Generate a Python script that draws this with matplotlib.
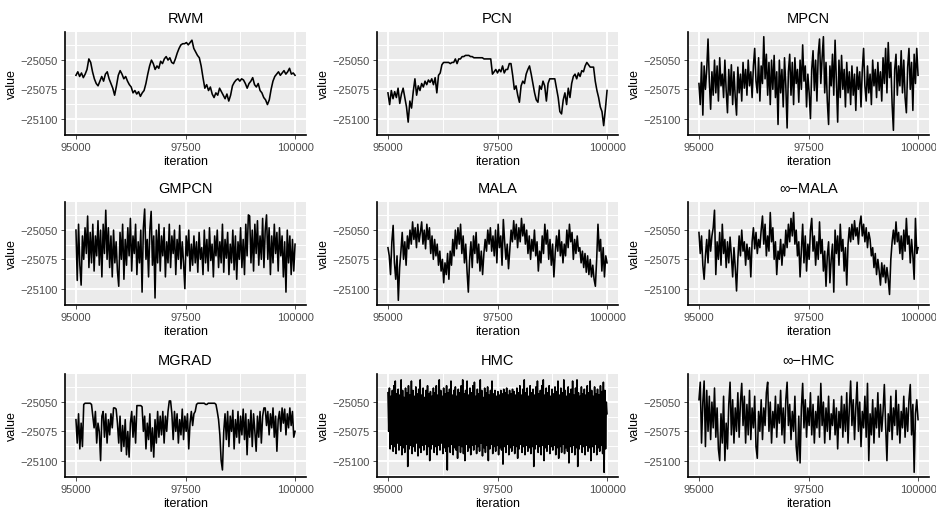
import numpy as np
import matplotlib
matplotlib.use("Agg")
import matplotlib.pyplot as plt

plt.rcParams['font.family'] = ['Liberation Sans', 'DejaVu Sans']

# iterations shown in every trace
iter_start, iter_end = 95000, 100000

rwm = [-25063, -25060, -25064, -25061, -25065, -25062, -25058, -25049, -25052, -25060,
       -25066, -25070, -25072, -25068, -25064, -25068, -25062, -25060, -25066, -25070,
       -25074, -25080, -25072, -25063, -25059, -25062, -25066, -25064, -25068, -25071,
       -25073, -25078, -25076, -25079, -25077, -25081, -25078, -25076, -25070, -25062,
       -25055, -25050, -25053, -25058, -25055, -25057, -25051, -25053, -25049, -25047,
       -25050, -25048, -25052, -25053, -25049, -25044, -25040, -25037, -25036, -25036,
       -25035, -25037, -25035, -25033, -25040, -25043, -25046, -25048, -25055, -25065,
       -25074, -25071, -25076, -25073, -25079, -25082, -25078, -25080, -25074, -25077,
       -25080, -25083, -25079, -25085, -25080, -25072, -25069, -25067, -25066, -25068,
       -25066, -25067, -25070, -25074, -25070, -25068, -25065, -25071, -25073, -25070,
       -25076, -25078, -25082, -25084, -25088, -25084, -25075, -25068, -25064, -25062,
       -25060, -25063, -25061, -25059, -25062, -25060, -25057, -25062, -25061, -25063]

pcn = [-25078, -25088, -25076, -25083, -25077, -25082, -25074, -25087, -25079, -25074,
       -25082, -25090, -25103, -25085, -25091, -25077, -25066, -25080, -25072, -25076,
       -25070, -25073, -25068, -25071, -25067, -25069, -25066, -25071, -25065, -25078,
       -25063, -25061, -25054, -25052, -25052, -25052, -25052, -25053, -25052, -25052,
       -25049, -25053, -25049, -25049, -25047, -25047, -25046, -25046, -25046, -25047,
       -25047, -25048, -25048, -25048, -25048, -25048, -25048, -25049, -25049, -25049,
       -25049, -25049, -25062, -25060, -25058, -25061, -25058, -25060, -25055, -25061,
       -25058, -25058, -25053, -25053, -25063, -25075, -25072, -25080, -25086, -25072,
       -25068, -25070, -25062, -25058, -25055, -25062, -25070, -25078, -25084, -25086,
       -25072, -25075, -25068, -25072, -25085, -25070, -25066, -25066, -25066, -25066,
       -25074, -25082, -25094, -25096, -25084, -25078, -25088, -25074, -25082, -25070,
       -25064, -25062, -25066, -25061, -25064, -25059, -25060, -25055, -25052, -25054,
       -25056, -25056, -25056, -25068, -25076, -25082, -25090, -25094, -25106, -25092,
       -25076]

mpcn = [-25070, -25088, -25052, -25097, -25055, -25075, -25058, -25032, -25068, -25092,
        -25060, -25080, -25050, -25078, -25055, -25085, -25048, -25072, -25062, -25082,
        -25050, -25076, -25095, -25058, -25080, -25054, -25088, -25060, -25082, -25097,
        -25056, -25078, -25062, -25085, -25052, -25074, -25058, -25080, -25050, -25072,
        -25060, -25082, -25055, -25040, -25068, -25078, -25048, -25085, -25055, -25070,
        -25030, -25066, -25045, -25080, -25052, -25088, -25050, -25075, -25046, -25082,
        -25060, -25105, -25050, -25078, -25058, -25090, -25048, -25072, -25108, -25060,
        -25045, -25080, -25052, -25088, -25048, -25070, -25058, -25086, -25050, -25075,
        -25037, -25068, -25055, -25090, -25062, -25078, -25100, -25058, -25042, -25076,
        -25050, -25085, -25045, -25032, -25070, -25048, -25030, -25078, -25052, -25085,
        -25105, -25055, -25072, -25045, -25080, -25033, -25068, -25103, -25050, -25082,
        -25046, -25075, -25058, -25090, -25052, -25078, -25060, -25088, -25055, -25080,
        -25062, -25093, -25056, -25075, -25060, -25090, -25058, -25040, -25072, -25085,
        -25055, -25078, -25062, -25088, -25050, -25072, -25058, -25082, -25052, -25076,
        -25060, -25085, -25048, -25070, -25040, -25078, -25035, -25065, -25052, -25088,
        -25110, -25058, -25045, -25080, -25055, -25072, -25042, -25078, -25050, -25082,
        -25095, -25056, -25040, -25075, -25052, -25093, -25045, -25070, -25040, -25063]

gmpcn = [-25050, -25093, -25045, -25080, -25097, -25055, -25075, -25048, -25070, -25038,
         -25082, -25052, -25078, -25045, -25085, -25055, -25072, -25042, -25080, -25050,
         -25090, -25045, -25070, -25033, -25075, -25048, -25082, -25055, -25090, -25050,
         -25078, -25060, -25085, -25098, -25052, -25075, -25045, -25092, -25058, -25080,
         -25048, -25072, -25040, -25085, -25055, -25070, -25045, -25088, -25060, -25078,
         -25050, -25103, -25048, -25032, -25075, -25058, -25090, -25050, -25034, -25080,
         -25055, -25108, -25050, -25078, -25045, -25085, -25055, -25072, -25048, -25090,
         -25060, -25078, -25045, -25082, -25055, -25070, -25050, -25088, -25058, -25075,
         -25046, -25083, -25060, -25078, -25100, -25055, -25072, -25050, -25085, -25062,
         -25080, -25055, -25078, -25060, -25086, -25052, -25075, -25065, -25088, -25050,
         -25078, -25058, -25085, -25048, -25076, -25062, -25090, -25055, -25072, -25050,
         -25082, -25060, -25078, -25045, -25086, -25058, -25074, -25052, -25088, -25062,
         -25078, -25050, -25084, -25055, -25092, -25060, -25075, -25048, -25082, -25058,
         -25088, -25045, -25072, -25037, -25038, -25078, -25050, -25085, -25045, -25070,
         -25042, -25080, -25055, -25075, -25040, -25082, -25050, -25037, -25075, -25048,
         -25088, -25055, -25078, -25045, -25070, -25052, -25085, -25048, -25072, -25055,
         -25090, -25060, -25103, -25050, -25078, -25055, -25088, -25058, -25085, -25062]

mala = [-25065, -25072, -25088, -25060, -25046, -25078, -25092, -25072, -25110, -25082,
        -25068, -25052, -25075, -25060, -25080, -25055, -25066, -25050, -25062, -25043,
        -25058, -25048, -25065, -25045, -25060, -25052, -25043, -25062, -25050, -25066,
        -25045, -25058, -25048, -25070, -25055, -25075, -25058, -25072, -25062, -25080,
        -25068, -25085, -25075, -25095, -25078, -25088, -25070, -25092, -25068, -25080,
        -25058, -25072, -25050, -25066, -25048, -25062, -25045, -25070, -25055, -25078,
        -25062, -25085, -25103, -25075, -25060, -25082, -25055, -25070, -25052, -25078,
        -25062, -25085, -25068, -25088, -25070, -25058, -25068, -25050, -25062, -25048,
        -25068, -25055, -25072, -25050, -25078, -25045, -25065, -25055, -25080, -25041,
        -25060, -25075, -25062, -25083, -25066, -25050, -25060, -25042, -25058, -25045,
        -25065, -25048, -25060, -25040, -25055, -25045, -25062, -25050, -25070, -25055,
        -25075, -25058, -25068, -25050, -25072, -25060, -25085, -25068, -25078, -25055,
        -25070, -25045, -25062, -25050, -25075, -25058, -25080, -25062, -25090, -25070,
        -25055, -25068, -25050, -25072, -25060, -25078, -25062, -25072, -25050, -25065,
        -25045, -25060, -25052, -25075, -25058, -25070, -25055, -25068, -25065, -25078,
        -25068, -25082, -25070, -25086, -25072, -25088, -25075, -25090, -25080, -25092,
        -25098, -25075, -25045, -25068, -25058, -25085, -25065, -25090, -25072, -25078]

inf_mala = [-25052, -25070, -25055, -25080, -25092, -25072, -25058, -25078, -25050, -25068,
            -25055, -25048, -25033, -25088, -25060, -25075, -25052, -25080, -25045, -25070,
            -25058, -25082, -25060, -25078, -25056, -25072, -25090, -25065, -25082, -25102,
            -25075, -25055, -25072, -25050, -25068, -25060, -25080, -25062, -25075, -25065,
            -25090, -25060, -25048, -25066, -25052, -25070, -25058, -25065, -25050, -25038,
            -25062, -25045, -25072, -25055, -25068, -25035, -25060, -25048, -25075, -25060,
            -25088, -25068, -25075, -25058, -25080, -25062, -25072, -25050, -25065, -25045,
            -25060, -25040, -25055, -25035, -25062, -25050, -25072, -25060, -25090, -25068,
            -25045, -25078, -25055, -25085, -25062, -25075, -25050, -25040, -25068, -25055,
            -25080, -25060, -25075, -25043, -25070, -25058, -25085, -25068, -25098, -25072,
            -25060, -25095, -25075, -25062, -25103, -25050, -25070, -25055, -25080, -25045,
            -25068, -25058, -25085, -25065, -25097, -25062, -25048, -25060, -25045, -25058,
            -25042, -25055, -25048, -25062, -25045, -25038, -25055, -25045, -25060, -25048,
            -25065, -25052, -25058, -25072, -25065, -25082, -25070, -25088, -25075, -25085,
            -25097, -25078, -25090, -25080, -25095, -25082, -25092, -25105, -25075, -25060,
            -25050, -25062, -25043, -25060, -25052, -25070, -25055, -25075, -25050, -25068,
            -25040, -25062, -25055, -25078, -25058, -25072, -25092, -25040, -25070, -25065]

mgrad = [-25065, -25085, -25060, -25090, -25068, -25088, -25052, -25051, -25051, -25051,
         -25051, -25051, -25052, -25062, -25072, -25058, -25085, -25068, -25075, -25100,
         -25062, -25058, -25080, -25060, -25085, -25065, -25078, -25060, -25072, -25055,
         -25055, -25056, -25068, -25085, -25062, -25092, -25070, -25088, -25065, -25095,
         -25075, -25097, -25068, -25058, -25080, -25062, -25085, -25053, -25053, -25053,
         -25053, -25054, -25075, -25062, -25090, -25068, -25082, -25060, -25092, -25072,
         -25097, -25065, -25085, -25058, -25080, -25062, -25078, -25058, -25085, -25062,
         -25075, -25058, -25049, -25049, -25060, -25082, -25058, -25075, -25060, -25085,
         -25065, -25078, -25056, -25082, -25062, -25075, -25060, -25090, -25068, -25058,
         -25070, -25060, -25058, -25052, -25051, -25051, -25051, -25051, -25051, -25051,
         -25052, -25052, -25051, -25051, -25051, -25051, -25051, -25051, -25052, -25058,
         -25065, -25078, -25100, -25108, -25075, -25060, -25082, -25058, -25088, -25062,
         -25075, -25057, -25090, -25065, -25080, -25058, -25085, -25062, -25078, -25056,
         -25082, -25060, -25095, -25065, -25080, -25057, -25088, -25060, -25075, -25092,
         -25062, -25080, -25058, -25085, -25062, -25055, -25055, -25070, -25058, -25078,
         -25060, -25072, -25055, -25080, -25062, -25092, -25065, -25058, -25075, -25055,
         -25068, -25056, -25078, -25060, -25072, -25055, -25070, -25058, -25080, -25075]

# HMC swings between the top and bottom of its band at nearly every step
hmc_hi = [-25042, -25038, -25045, -25040, -25036, -25032, -25043, -25039, -25044, -25031,
          -25040, -25046, -25038, -25042, -25036, -25044, -25032, -25040, -25045, -25037,
          -25043, -25039, -25031, -25044, -25038, -25046, -25040, -25036, -25043, -25041,
          -25045, -25038, -25042, -25036, -25044, -25031, -25040, -25045, -25038, -25043,
          -25036, -25042, -25039, -25032, -25044, -25040, -25037, -25045, -25039, -25042,
          -25036, -25031, -25043, -25040, -25032, -25044, -25038, -25042, -25036, -25033,
          -25045, -25039, -25043, -25031, -25040, -25046, -25038, -25042, -25037, -25044,
          -25040, -25032, -25043, -25040, -25045, -25041, -25044, -25040, -25043, -25039,
          -25042, -25038, -25044, -25040, -25043, -25039, -25041, -25044, -25038, -25042,
          -25036, -25044, -25039, -25031, -25042, -25038, -25045, -25036, -25042, -25039,
          -25044, -25037, -25032, -25043, -25040, -25036, -25031, -25044, -25038, -25042,
          -25036, -25045, -25039, -25043, -25037, -25041, -25032, -25044, -25038, -25042,
          -25031, -25040, -25045, -25037, -25043, -25039, -25032, -25044, -25038, -25031,
          -25042, -25045, -25037, -25043, -25039, -25044, -25036, -25042, -25032, -25040,
          -25045, -25037, -25043, -25039, -25044, -25036, -25041, -25033, -25040, -25050]
hmc_lo = [-25075, -25090, -25086, -25092, -25088, -25094, -25085, -25091, -25087, -25095,
          -25089, -25093, -25086, -25105, -25090, -25087, -25094, -25088, -25092, -25085,
          -25096, -25089, -25093, -25087, -25091, -25086, -25095, -25088, -25100, -25090,
          -25086, -25093, -25088, -25095, -25087, -25091, -25085, -25094, -25089, -25092,
          -25108, -25088, -25093, -25086, -25095, -25089, -25091, -25098, -25087, -25093,
          -25088, -25094, -25100, -25086, -25092, -25089, -25095, -25087, -25091, -25086,
          -25094, -25088, -25092, -25085, -25096, -25089, -25093, -25087, -25100, -25090,
          -25086, -25094, -25088, -25092, -25087, -25095, -25089, -25091, -25103, -25088,
          -25093, -25086, -25095, -25089, -25092, -25087, -25094, -25088, -25098, -25090,
          -25086, -25093, -25088, -25095, -25087, -25092, -25089, -25094, -25088, -25105,
          -25090, -25086, -25093, -25088, -25095, -25087, -25100, -25089, -25092, -25086,
          -25094, -25088, -25091, -25087, -25095, -25089, -25098, -25088, -25093, -25086,
          -25094, -25089, -25092, -25102, -25088, -25093, -25087, -25095, -25089, -25105,
          -25090, -25086, -25093, -25088, -25095, -25087, -25092, -25089, -25100, -25088,
          -25093, -25086, -25095, -25089, -25092, -25087, -25094, -25110, -25090, -25060]
hmc = [v for pair in zip(hmc_hi, hmc_lo) for v in pair]

inf_hmc = [-25048, -25033, -25085, -25050, -25032, -25088, -25040, -25075, -25045, -25082,
           -25050, -25072, -25038, -25080, -25055, -25090, -25100, -25060, -25085, -25045,
           -25100, -25068, -25090, -25052, -25033, -25078, -25048, -25085, -25055, -25075,
           -25042, -25080, -25050, -25034, -25070, -25045, -25085, -25052, -25078, -25040,
           -25082, -25055, -25072, -25045, -25088, -25098, -25058, -25075, -25048, -25082,
           -25055, -25070, -25042, -25033, -25075, -25050, -25085, -25058, -25072, -25045,
           -25080, -25052, -25068, -25040, -25078, -25055, -25085, -25048, -25033, -25070,
           -25052, -25082, -25058, -25075, -25045, -25088, -25100, -25062, -25102, -25055,
           -25034, -25072, -25048, -25080, -25055, -25070, -25042, -25078, -25052, -25085,
           -25058, -25072, -25045, -25080, -25034, -25070, -25050, -25085, -25055, -25075,
           -25045, -25082, -25060, -25070, -25048, -25078, -25055, -25090, -25058, -25072,
           -25045, -25080, -25052, -25075, -25042, -25085, -25055, -25032, -25070, -25048,
           -25082, -25055, -25033, -25075, -25050, -25088, -25058, -25072, -25045, -25080,
           -25034, -25100, -25060, -25078, -25048, -25085, -25055, -25072, -25042, -25080,
           -25052, -25075, -25058, -25035, -25070, -25100, -25060, -25075, -25045, -25082,
           -25055, -25070, -25040, -25078, -25052, -25085, -25058, -25072, -25045, -25080,
           -25055, -25075, -25048, -25035, -25078, -25052, -25110, -25060, -25048, -25065]

titles = ["RWM", "PCN", "MPCN", "GMPCN", "MALA", "\u221e\u2212MALA",
          "MGRAD", "HMC", "\u221e\u2212HMC"]
traces = [rwm, pcn, mpcn, gmpcn, mala, inf_mala, mgrad, hmc, inf_hmc]

x_ticks = [95000, 97500, 100000]
y_ticks = [-25100, -25075, -25050]

# shared y range, ggplot style 5% expansion
all_vals = np.concatenate([np.asarray(t, float) for t in traces])
ylo, yhi = all_vals.min(), all_vals.max()
ypad = 0.05 * (yhi - ylo)
xpad = 0.05 * (iter_end - iter_start)

fig = plt.figure(figsize=(9.37, 5.1), dpi=100)
W, H = 937.0, 510.0
lefts = [65, 377, 688]
tops = [33, 203, 375]
pw, ph = 241, 103

for k, (title, vals) in enumerate(zip(titles, traces)):
    r, c = divmod(k, 3)
    ax = fig.add_axes([lefts[c] / W, 1 - (tops[r] + ph) / H, pw / W, ph / H])
    ax.set_facecolor("#EBEBEB")
    it = np.linspace(iter_start, iter_end, len(vals))
    ax.plot(it, vals, color="black", lw=1.15)

    ax.set_xlim(iter_start - xpad, iter_end + xpad)
    ax.set_ylim(ylo - ypad, yhi + ypad)
    ax.set_xticks(x_ticks)
    ax.set_xticklabels([str(v) for v in x_ticks])
    ax.set_yticks(y_ticks)
    ax.set_yticklabels([str(v).replace("-", "\u2212") for v in y_ticks])
    ax.set_xticks([96250, 98750], minor=True)
    ax.set_yticks([-25112.5, -25087.5, -25062.5, -25037.5], minor=True)

    ax.set_axisbelow(True)
    ax.grid(which="major", color="white", lw=1.4)
    ax.grid(which="minor", color="white", lw=0.7)
    for s in ["top", "right"]:
        ax.spines[s].set_visible(False)
    for s in ["left", "bottom"]:
        ax.spines[s].set_color("black")
        ax.spines[s].set_linewidth(1.2)

    ax.tick_params(which="major", length=2.75, width=0.6, color="#333333",
                   labelsize=8, labelcolor="#4D4D4D", pad=2.2)
    ax.tick_params(which="minor", length=0)
    ax.set_xlabel("iteration", fontsize=9, labelpad=2)
    ax.set_ylabel("value", fontsize=9, labelpad=2)
    ax.set_title(title, fontsize=10.5, pad=7)

fig.savefig("out.png", dpi=100)
